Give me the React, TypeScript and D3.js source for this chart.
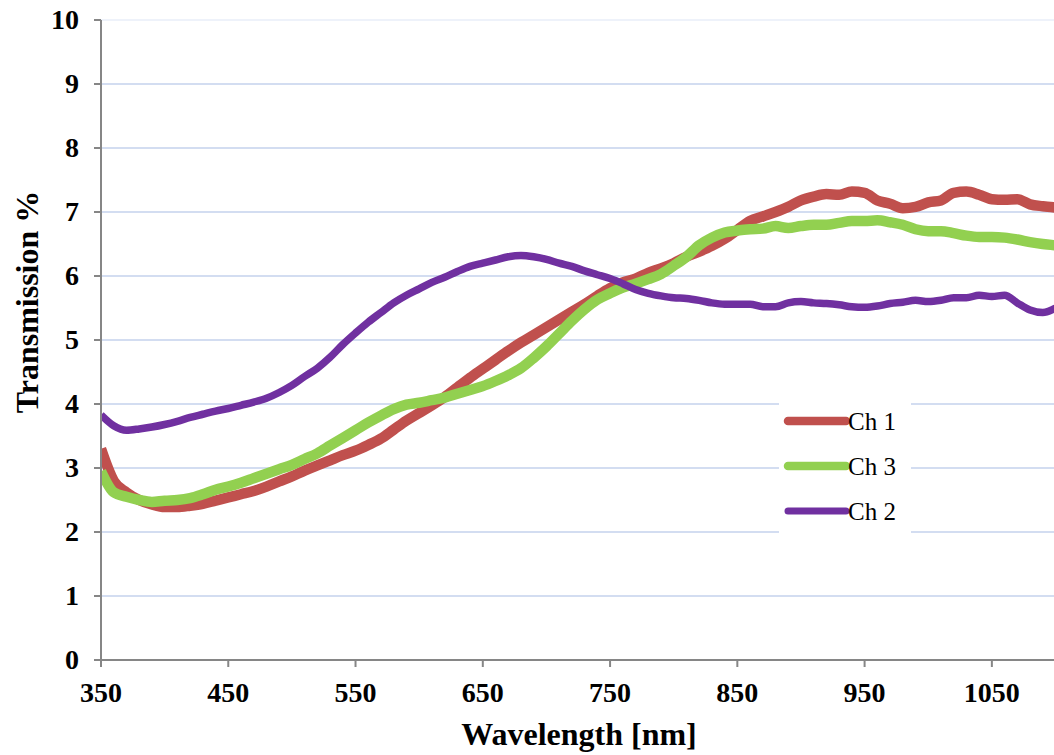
import React from "react";
import * as d3 from "d3";

const wavelengths: number[] = [
  350, 360, 370, 380, 390, 400, 410, 420, 430, 440, 450, 460, 470, 480, 490, 500,
  510, 520, 530, 540, 550, 560, 570, 580, 590, 600, 610, 620, 630, 640, 650, 660,
  670, 680, 690, 700, 710, 720, 730, 740, 750, 760, 770, 780, 790, 800, 810, 820,
  830, 840, 850, 860, 870, 880, 890, 900, 910, 920, 930, 940, 950, 960, 970, 980,
  990, 1000, 1010, 1020, 1030, 1040, 1050, 1060, 1070, 1080, 1090, 1100,
];

const ch1: number[] = [
  3.3, 2.8, 2.62, 2.5, 2.43, 2.39, 2.39, 2.41, 2.44, 2.49, 2.54, 2.59, 2.64, 2.71, 2.79, 2.87,
  2.96, 3.04, 3.12, 3.2, 3.27, 3.36, 3.46, 3.6, 3.74, 3.86, 3.98, 4.11, 4.26, 4.41, 4.55, 4.69,
  4.83, 4.96, 5.08, 5.2, 5.32, 5.44, 5.56, 5.69, 5.81, 5.9, 5.96, 6.05, 6.12, 6.2, 6.3, 6.38,
  6.47, 6.58, 6.72, 6.86, 6.93, 7.0, 7.08, 7.18, 7.24, 7.28, 7.27, 7.32, 7.3, 7.18, 7.13, 7.06,
  7.08, 7.15, 7.18, 7.3, 7.32, 7.27, 7.2, 7.19, 7.2, 7.12, 7.09, 7.07,
];

const ch3: number[] = [
  2.95, 2.62, 2.55, 2.5, 2.47, 2.49, 2.5, 2.53, 2.59, 2.66, 2.71, 2.77, 2.84, 2.91, 2.98, 3.05,
  3.14, 3.23, 3.35, 3.47, 3.59, 3.71, 3.82, 3.92, 3.99, 4.02, 4.06, 4.1, 4.16, 4.22, 4.28, 4.36,
  4.45, 4.56, 4.72, 4.9, 5.1, 5.3, 5.48, 5.63, 5.73, 5.82, 5.88, 5.95, 6.03, 6.16, 6.3, 6.48,
  6.6, 6.68, 6.71, 6.73, 6.74, 6.78, 6.75, 6.78, 6.8, 6.8, 6.83, 6.86, 6.86, 6.87, 6.84, 6.8,
  6.73, 6.7, 6.7, 6.67, 6.63, 6.61, 6.61, 6.6, 6.57, 6.53, 6.5, 6.48,
];

const ch2: number[] = [
  3.83, 3.66, 3.59, 3.61, 3.64, 3.68, 3.73, 3.79, 3.84, 3.89, 3.93, 3.98, 4.03, 4.09, 4.18, 4.29,
  4.43, 4.56, 4.73, 4.93, 5.11, 5.28, 5.43, 5.58, 5.7, 5.8, 5.9, 5.98, 6.07, 6.15, 6.2, 6.25,
  6.3, 6.32, 6.3, 6.26, 6.2, 6.15, 6.08, 6.02, 5.96, 5.88, 5.79, 5.73, 5.69, 5.66, 5.65, 5.62,
  5.58, 5.56, 5.56, 5.56, 5.52, 5.52, 5.58, 5.6, 5.58, 5.57, 5.55, 5.52, 5.51, 5.53, 5.57, 5.59,
  5.62, 5.6, 5.62, 5.66, 5.66, 5.7, 5.68, 5.7, 5.58, 5.47, 5.43, 5.5,
];

const xTicks: number[] = [350, 450, 550, 650, 750, 850, 950, 1050];
const yTicks: number[] = [0, 1, 2, 3, 4, 5, 6, 7, 8, 9, 10];

const seriesNames: string[] = ["Ch 1", "Ch 3", "Ch 2"];
const seriesColors: string[] = ["#c0504d", "#92d050", "#7030a0"];
const seriesWidths: number[] = [10.5, 10.5, 7.5];

const W = 1054;
const H = 755;
const M = { left: 101, top: 20, right: 1055.5, bottom: 660 };
const FONT = "'Liberation Serif', 'Times New Roman', serif";

export default function App() {
  const x = d3.scaleLinear().domain([350, 1100]).range([M.left, M.right]);
  const y = d3.scaleLinear().domain([0, 10]).range([M.bottom, M.top]);
  const seriesData = [ch1, ch3, ch2];
  const line = d3
    .line<number>()
    .x((_, i) => x(wavelengths[i]))
    .y((d) => y(d))
    .curve(d3.curveMonotoneX);

  const legX = 788;
  const legY0 = 421;
  const legDy = 45;

  return (
    <svg
      width={W}
      height={H}
      style={{ position: "absolute", left: 0, top: 0, background: "#fff" }}
      fontFamily={FONT}
    >
      <defs>
        <clipPath id="plotClip">
          <rect x={M.left} y={0} width={M.right - M.left} height={M.bottom} />
        </clipPath>
      </defs>
      <rect x={0} y={0} width={W} height={H} fill="#fff" />
      {yTicks
        .filter((t) => t > 0)
        .map((t) => (
          <line
            key={"g" + t}
            x1={M.left}
            x2={M.right}
            y1={y(t)}
            y2={y(t)}
            stroke={t === 10 ? "#eef2fa" : "#d3ddf1"}
            strokeWidth={2}
          />
        ))}
      <g clipPath="url(#plotClip)">
        {seriesData.map((s, i) => (
          <path
            key={"s" + i}
            d={line(s) || ""}
            fill="none"
            stroke={seriesColors[i]}
            strokeWidth={seriesWidths[i]}
            strokeLinejoin="round"
            strokeLinecap="butt"
          />
        ))}
      </g>
      <line x1={M.left} x2={M.left} y1={M.top} y2={M.bottom + 7} stroke="#868686" strokeWidth={2} />
      <line x1={M.left - 7} x2={M.right} y1={M.bottom} y2={M.bottom} stroke="#868686" strokeWidth={2} />
      {yTicks.map((t) => (
        <g key={"yt" + t}>
          <line x1={M.left - 7} x2={M.left} y1={y(t)} y2={y(t)} stroke="#868686" strokeWidth={2} />
          <text
            x={M.left - 22}
            y={y(t)}
            dy="0.33em"
            textAnchor="end"
            fontSize={28}
            fontWeight="bold"
          >
            {t}
          </text>
        </g>
      ))}
      {xTicks.map((t) => (
        <g key={"xt" + t}>
          <line x1={x(t)} x2={x(t)} y1={M.bottom} y2={M.bottom + 7} stroke="#868686" strokeWidth={2} />
          <text x={x(t)} y={M.bottom + 42} textAnchor="middle" fontSize={28} fontWeight="bold">
            {t}
          </text>
        </g>
      ))}
      <text x={579} y={745} textAnchor="middle" fontSize={32} fontWeight="bold">
        Wavelength [nm]
      </text>
      <text
        transform={`translate(38, 302) rotate(-90)`}
        textAnchor="middle"
        fontSize={32}
        fontWeight="bold"
      >
        Transmission %
      </text>
      <rect x={779} y={395} width={132} height={142} fill="#fff" />
      {seriesNames.map((n, i) => (
        <g key={"l" + i}>
          <line
            x1={legX}
            x2={legX + 58}
            y1={legY0 + i * legDy}
            y2={legY0 + i * legDy}
            stroke={seriesColors[i]}
            strokeWidth={i === 2 ? 7 : 8.5}
            strokeLinecap="round"
          />
          <text x={848} y={legY0 + i * legDy} dy="0.35em" fontSize={25}>
            {n}
          </text>
        </g>
      ))}
    </svg>
  );
}
